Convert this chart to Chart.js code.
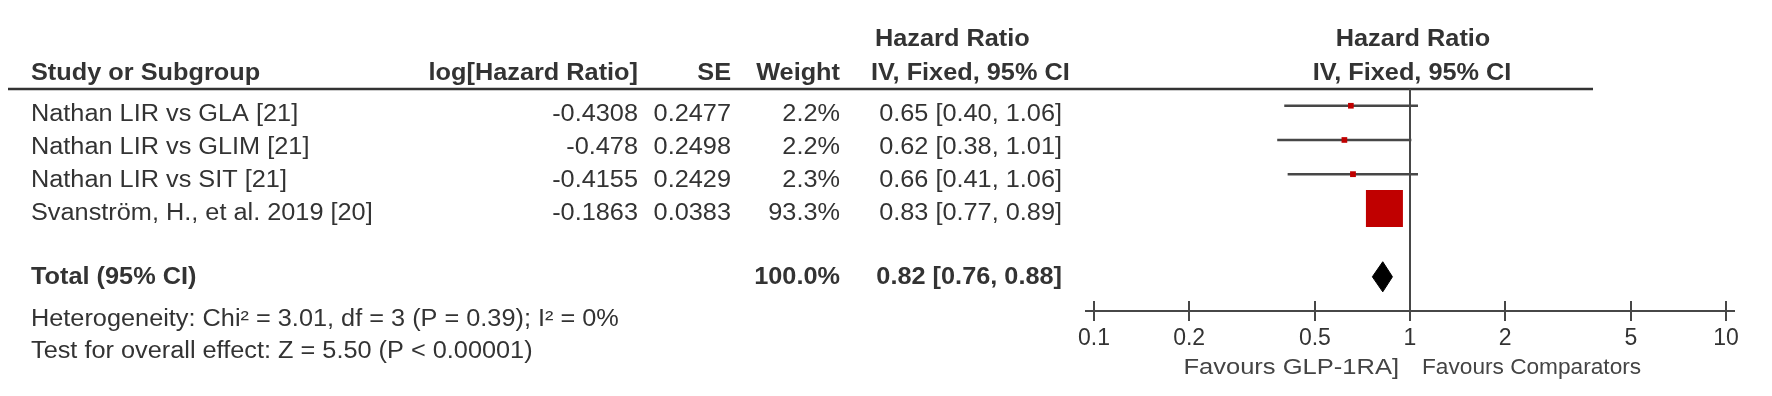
<!DOCTYPE html>
<html><head><meta charset="utf-8">
<style>html,body{margin:0;padding:0;background:#fff;}canvas{display:block;}</style>
<script src="https://cdn.jsdelivr.net/npm/chart.js@4.4.1/dist/chart.umd.min.js"></script>
</head><body>
<canvas id="c" width="1772" height="396" style="width:1772px;height:396px"></canvas>
<script>
// ---------- data ----------
const studies = ["Nathan LIR vs GLA [21]", "Nathan LIR vs GLIM [21]", "Nathan LIR vs SIT [21]", "Svanström, H., et al. 2019 [20]"];
const logHazardRatio = [-0.4308, -0.478, -0.4155, -0.1863];
const standardErrors = [0.2477, 0.2498, 0.2429, 0.0383];
const weights = [2.2, 2.2, 2.3, 93.3];
const hazardRatios = [0.65, 0.62, 0.66, 0.83];
const ciLower = [0.40, 0.38, 0.41, 0.77];
const ciUpper = [1.06, 1.01, 1.06, 0.89];
const totalLabel = "Total (95% CI)";
const totalWeight = 100.0;
const totalHR = 0.82, totalLower = 0.76, totalUpper = 0.88;
const heterogeneityText = "Heterogeneity: Chi² = 3.01, df = 3 (P = 0.39); I² = 0%";
const overallEffectText = "Test for overall effect: Z = 5.50 (P < 0.00001)";
const xTickValues = [0.1, 0.2, 0.5, 1, 2, 5, 10];
const xTickLabels = ["0.1", "0.2", "0.5", "1", "2", "5", "10"];
const favoursLeft = "Favours GLP-1RA]";
const favoursRight = "Favours Comparators";
const headerTop = "Hazard Ratio";
const headerMethod = "IV, Fixed, 95% CI";
const headerStudy = "Study or Subgroup";
const headerLogHR = "log[Hazard Ratio]";
const headerSE = "SE";
const headerWeight = "Weight";

// ---------- style ----------
const FONT = '"Liberation Sans", Arial, Helvetica, sans-serif';
const FS = 23, SX = 1.1;
const TEXT = '#333333';
const LINE = '#474747';
const RED = '#c00000';
const MAX_SIDE = 37;
const TOTAL_ROW = studies.length + 1;
const DIAMOND_HALF = 0.44; // in row units
const maxW = Math.max(...weights);
const markerRadius = w => (MAX_SIDE * Math.sqrt(w / maxW)) / Math.SQRT2;
const fmt2 = v => v.toFixed(2);
const ciText = (h, l, u) => fmt2(h) + " [" + fmt2(l) + ", " + fmt2(u) + "]";

function txt(ctx, s, x, y, align, bold, size, sx, color) {
  ctx.save();
  ctx.font = (bold ? 'bold ' : '') + (size || FS) + 'px ' + FONT;
  ctx.fillStyle = color || TEXT;
  ctx.textBaseline = 'middle';
  ctx.textAlign = align;
  ctx.translate(x, y);
  ctx.scale(sx || SX, 1);
  ctx.fillText(s, 0, 0);
  ctx.restore();
}

const forestPlugin = {
  id: 'forest',
  beforeDatasetsDraw(chart) {
    const {ctx, chartArea, scales} = chart;
    const xs = scales.x;
    ctx.save();
    ctx.strokeStyle = '#333';
    ctx.lineWidth = 2.5;
    ctx.beginPath();
    ctx.moveTo(8, chartArea.top);
    ctx.lineTo(1593, chartArea.top);
    ctx.stroke();
    // null line
    const x1 = Math.round(xs.getPixelForValue(1));
    ctx.strokeStyle = LINE;
    ctx.lineWidth = 2;
    ctx.beginPath();
    ctx.moveTo(x1, chartArea.top);
    ctx.lineTo(x1, chartArea.bottom);
    ctx.stroke();
    ctx.restore();
  },
  afterDraw(chart) {
    const {ctx, chartArea, scales} = chart;
    const xs = scales.x, ys = scales.y;
    const yb = Math.round(chartArea.bottom);
    ctx.save();
    ctx.strokeStyle = LINE;
    ctx.lineWidth = 2;
    ctx.beginPath();
    ctx.moveTo(xs.left - 9, yb);
    ctx.lineTo(xs.right + 9, yb);
    xTickValues.forEach(v => {
      const x = Math.round(xs.getPixelForValue(v));
      ctx.moveTo(x, yb - 10);
      ctx.lineTo(x, yb);
    });
    ctx.stroke();
    ctx.restore();

    // column positions
    const cName = 31, cLog = 638, cSE = 731, cW = 840, cHR = 1062, cHRh = 871;
    const xNull = xs.getPixelForValue(1);
    // headers
    txt(ctx, headerTop, cHRh + 4, 40, 'left', true);
    txt(ctx, headerTop, xNull + 3, 40, 'center', true);
    txt(ctx, headerStudy, cName, 73.5, 'left', true);
    txt(ctx, headerLogHR, cLog, 73.5, 'right', true);
    txt(ctx, headerSE, cSE, 73.5, 'right', true);
    txt(ctx, headerWeight, cW, 73.5, 'right', true);
    txt(ctx, headerMethod, cHRh, 73.5, 'left', true);
    txt(ctx, headerMethod, xNull + 2, 73.5, 'center', true);
    // rows
    studies.forEach((s, i) => {
      const y = ys.getPixelForValue(i) + 8.5 - 1.0 * i;
      txt(ctx, s, cName, y, 'left', false);
      txt(ctx, String(logHazardRatio[i]), cLog, y, 'right', false);
      txt(ctx, String(standardErrors[i]), cSE, y, 'right', false);
      txt(ctx, weights[i].toFixed(1) + '%', cW, y, 'right', false);
      txt(ctx, ciText(hazardRatios[i], ciLower[i], ciUpper[i]), cHR, y, 'right', false);
    });
    const yt = ys.getPixelForValue(TOTAL_ROW) + 1;
    txt(ctx, totalLabel, cName, yt, 'left', true);
    txt(ctx, totalWeight.toFixed(1) + '%', cW, yt, 'right', true);
    txt(ctx, ciText(totalHR, totalLower, totalUpper), cHR, yt, 'right', true);
    txt(ctx, heterogeneityText, cName, 319.5, 'left', false);
    txt(ctx, overallEffectText, cName, 351.5, 'left', false);
    txt(ctx, favoursLeft, xNull - 11, 368, 'right', false, 22, 1.16, '#444');
    txt(ctx, favoursRight, xNull + 12, 368, 'left', false, 22, 1.03, '#444');
  }
};

const datasets = [];
studies.forEach((s, i) => {
  datasets.push({
    type: 'line', label: 'CI ' + s,
    data: [{x: ciLower[i], y: i}, {x: ciUpper[i], y: i}],
    showLine: true, borderColor: LINE, borderWidth: 2.5, pointRadius: 0, fill: false, order: 3
  });
});
datasets.push({
  label: 'Hazard ratio',
  data: hazardRatios.map((v, i) => ({x: v, y: i})),
  pointStyle: 'rect',
  pointRadius: c => markerRadius(weights[c.dataIndex]),
  pointHoverRadius: c => markerRadius(weights[c.dataIndex]),
  backgroundColor: RED, borderWidth: 0, order: 1
});
datasets.push({
  type: 'line', label: 'Total upper',
  data: [{x: totalLower, y: TOTAL_ROW}, {x: totalHR, y: TOTAL_ROW - DIAMOND_HALF}, {x: totalUpper, y: TOTAL_ROW}],
  showLine: true, borderColor: '#000', borderWidth: 1, backgroundColor: '#000', pointRadius: 0, tension: 0, fill: '+1', order: 0
});
datasets.push({
  type: 'line', label: 'Total lower',
  data: [{x: totalLower, y: TOTAL_ROW}, {x: totalHR, y: TOTAL_ROW + DIAMOND_HALF}, {x: totalUpper, y: TOTAL_ROW}],
  showLine: true, borderColor: '#000', borderWidth: 1, backgroundColor: '#000', pointRadius: 0, tension: 0, fill: false, order: 0
});

new Chart(document.getElementById('c'), {
  type: 'scatter',
  data: {datasets},
  plugins: [forestPlugin],
  options: {
    responsive: false, animation: false, devicePixelRatio: 1,
    layout: {padding: {left: 1094, right: 46, top: 89, bottom: 25}},
    plugins: {legend: {display: false}, tooltip: {enabled: false}},
    scales: {
      x: {
        type: 'logarithmic', min: 0.1, max: 10, position: 'bottom',
        afterBuildTicks: s => { s.ticks = xTickValues.map(v => ({value: v})); },
        afterFit: s => { s.height = 60; },
        ticks: {
          autoSkip: false, maxRotation: 0, minRotation: 0, padding: 4, color: TEXT,
          font: {family: FONT, size: 23},
          callback: (v, i) => xTickLabels[i]
        },
        grid: {display: true, drawOnChartArea: false, drawTicks: true, tickLength: 10, color: LINE, lineWidth: 2},
        border: {display: true, color: LINE, width: 2}
      },
      y: {type: 'linear', display: false, reverse: true, min: -0.49, max: 6.0}
    }
  }
});
</script>
</body></html>
